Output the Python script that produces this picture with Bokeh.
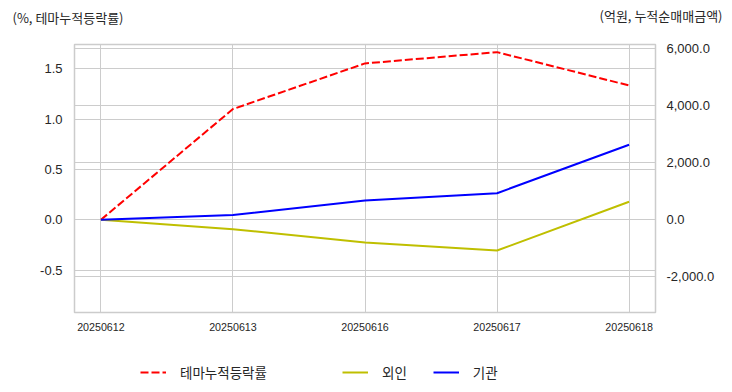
from bokeh.plotting import figure
from bokeh.layouts import column
from bokeh.models import (Range1d, LinearAxis, FixedTicker, Grid, Legend, LegendItem,
                          Label, NumeralTickFormatter, PrintfTickFormatter)
from bokeh.embed import file_html
from bokeh.resources import INLINE

dates = ["20250612", "20250613", "20250616", "20250617", "20250618"]
theme_ret = [0.0, 1.10, 1.553, 1.665, 1.334]
foreign = [0.0, -330.0, -796.0, -1077.0, 632.0]
institution = [0.0, 168.0, 677.0, 933.0, 2632.0]
left_ticks = [-0.5, 0.0, 0.5, 1.0, 1.5]
right_ticks = [-2000, 0, 2000, 4000, 6000]
left_title = "(%, 테마누적등락률)"
right_title = "(억원, 누적순매매금액)"
series_names = ["테마누적등락률", "외인", "기관"]

xs = list(range(len(dates)))

KFONT = "Noto Sans CJK KR"
NFONT = "Liberation Sans"
GRID = "#cccccc"
TXT = "#262626"
RED, YEL, BLU = "#ff0000", "#bfbf00", "#0000ff"

MAIN_BOTTOM = 40
FOOT_H = 392 - 44 - 268 - MAIN_BOTTOM

p = figure(frame_width=581, frame_height=268, output_backend="svg", toolbar_location=None,
           title=None,
           x_range=Range1d(-0.2, 4.2), y_range=Range1d(-0.921, 1.741),
           min_border_left=74, min_border_right=77, min_border_top=44,
           min_border_bottom=MAIN_BOTTOM)
p.extra_y_ranges = {"right": Range1d(-3253, 6151)}

p.outline_line_color = GRID
p.outline_line_width = 1.5

p.xaxis.ticker = FixedTicker(ticks=xs)
p.xaxis.major_label_overrides = {i: d for i, d in enumerate(dates)}
p.yaxis.ticker = FixedTicker(ticks=left_ticks)
p.yaxis.formatter = PrintfTickFormatter(format="%.1f")

raxis = LinearAxis(y_range_name="right", ticker=FixedTicker(ticks=right_ticks),
                   formatter=NumeralTickFormatter(format="0,0.0"))
p.add_layout(raxis, "right")

for ax in p.axis:
    ax.axis_line_color = None
    ax.major_tick_line_color = None
    ax.minor_tick_line_color = None
    ax.major_label_text_color = TXT
    ax.major_label_text_font = NFONT
p.xaxis.major_label_text_font_size = "10.7px"
p.xaxis.major_label_standoff = 4
p.yaxis.major_label_text_font_size = "13px"
p.yaxis.major_label_standoff = 6
raxis.major_label_text_font_size = "13px"
raxis.major_label_standoff = 5

p.xgrid.grid_line_color = GRID
p.xgrid.ticker = FixedTicker(ticks=xs)
p.ygrid.grid_line_color = GRID
p.ygrid.ticker = FixedTicker(ticks=left_ticks)
p.add_layout(Grid(dimension=1, ticker=FixedTicker(ticks=right_ticks), y_range_name="right",
                  grid_line_color=GRID))

p.line(xs, theme_ret, line_color=RED, line_width=2, line_dash="8 3")
p.line(xs, foreign, line_color=YEL, line_width=2, y_range_name="right")
p.line(xs, institution, line_color=BLU, line_width=2, y_range_name="right")

cap_l = Label(x=-62, y=27, x_units="screen", y_units="screen", text=left_title,
              text_font=KFONT, text_font_size="13px", text_color=TXT, text_baseline="middle")
cap_r = Label(x=648, y=10, x_units="screen", y_units="screen", text=right_title,
              text_font=KFONT, text_font_size="13px", text_color=TXT, text_baseline="middle",
              text_align="right")
p.add_layout(cap_l, "above")
p.add_layout(cap_r, "above")

# footer strip holding the legend (same horizontal geometry as the main plot);
# its ranges keep the series out of view so only the legend keys show
foot = figure(frame_width=581, frame_height=FOOT_H, output_backend="svg", toolbar_location=None,
              title=None, x_range=Range1d(-0.2, 4.2), y_range=Range1d(1e5, 1e5 + 1),
              x_axis_location=None, y_axis_location=None,
              min_border_left=74, min_border_right=77, min_border_top=0, min_border_bottom=0)
foot.outline_line_color = None
foot.xgrid.visible = False
foot.ygrid.visible = False
k_theme = foot.line(xs, theme_ret, line_color=RED, line_width=2, line_dash="8 3")
k_for = foot.line(xs, foreign, line_color=YEL, line_width=2)
k_ins = foot.line(xs, institution, line_color=BLU, line_width=2)

leg1 = Legend(items=[LegendItem(label=series_names[0], renderers=[k_theme])],
              location=(66, FOOT_H - 30), orientation="horizontal")
leg2 = Legend(items=[LegendItem(label=series_names[1], renderers=[k_for]),
                     LegendItem(label=series_names[2], renderers=[k_ins])],
              location=(268, FOOT_H - 30), orientation="horizontal", spacing=26)
for lg in (leg1, leg2):
    lg.padding = 0
    lg.margin = 0
    lg.border_line_color = None
    lg.background_fill_alpha = 0
    lg.glyph_width = 26
    lg.label_standoff = 14
    lg.label_text_font = KFONT
    lg.label_text_font_size = "13.5px"
    lg.label_text_color = TXT
    foot.add_layout(lg, "center")

layout = column(p, foot, spacing=0)
open("out.html", "w").write(file_html(layout, INLINE))
